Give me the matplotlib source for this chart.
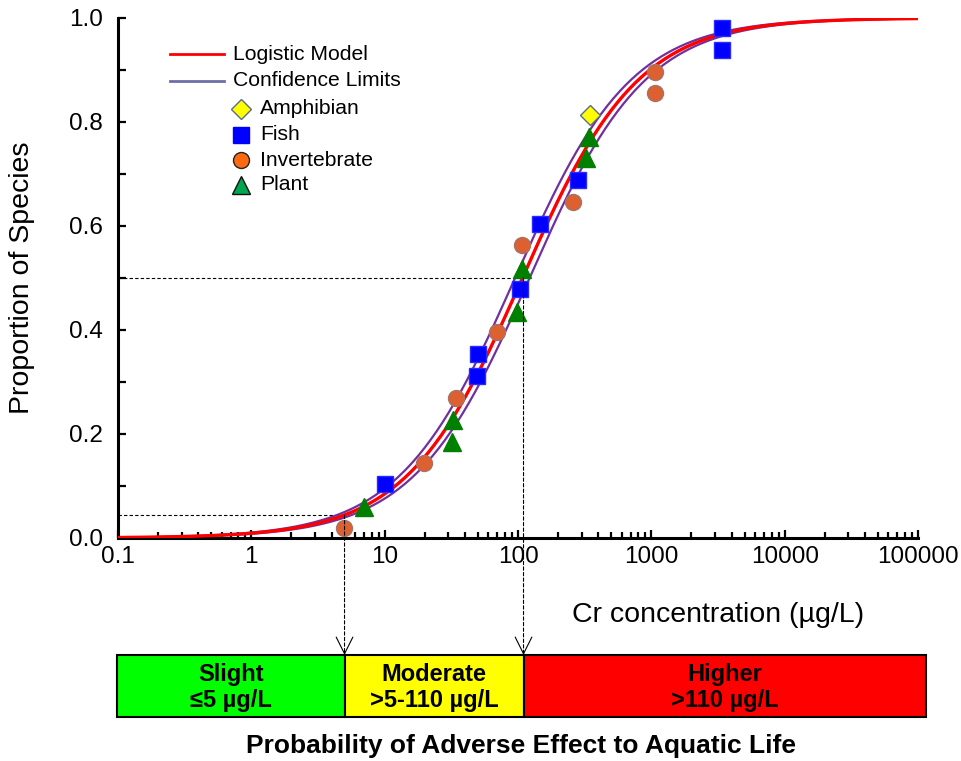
import numpy as np
import matplotlib
matplotlib.use("Agg")
import matplotlib.pyplot as plt
from matplotlib.patches import ConnectionPatch
from matplotlib.ticker import MultipleLocator, LogLocator, NullFormatter, FixedLocator, FormatStrFormatter

plt.rcParams['font.family'] = ['Liberation Sans', 'DejaVu Sans']

# logistic model: EC50 (ug/L) and slope, plus confidence limits
ec50_model = 108.0
ec50_upper = 95.0
ec50_lower = 122.0
slope = 1.0

# species sensitivity points (concentration ug/L, proportion)
amphibian_x = [347]
amphibian_y = [0.813]
fish_x = [10, 50, 49, 103, 146, 283, 3375, 3375]
fish_y = [0.104, 0.354, 0.312, 0.478, 0.604, 0.688, 0.980, 0.938]
invert_x = [4.96, 19.7, 34.3, 69.2, 107, 260, 1067, 1067]
invert_y = [0.020, 0.145, 0.270, 0.396, 0.563, 0.646, 0.897, 0.855]
plant_x = [7.0, 32.4, 32.0, 108, 97.7, 343, 324]
plant_y = [0.059, 0.227, 0.185, 0.517, 0.435, 0.772, 0.730]

# guide lines: (concentration, proportion)
guides = [(5, 0.044), (110, 0.5)]

# risk bands
band_edges = [0.098, 5, 110, 115000]
band_colors = ['#00ff00', '#ffff00', '#ff0000']
band_titles = ['Slight', 'Moderate', 'Higher']
band_ranges = ['\u22645 \u00b5g/L', '>5-110 \u00b5g/L', '>110 \u00b5g/L']


def logistic(x, ec50, b):
    return 1.0 / (1.0 + (x / ec50) ** (-b))


W, H = 962, 761
fig = plt.figure(figsize=(W / 100, H / 100), dpi=100)
ax = fig.add_axes([118 / W, 1 - 538 / H, 800 / W, 520 / H])

xs = np.logspace(-1, 5, 400)
ax.plot(xs, logistic(xs, ec50_upper, slope), color='#7030a0', lw=1.6, zorder=2)
ax.plot(xs, logistic(xs, ec50_lower, slope), color='#7030a0', lw=1.6, zorder=2)
ax.plot(xs, logistic(xs, ec50_model, slope), color='#ff0000', lw=2.4, zorder=3)

ax.plot(fish_x, fish_y, 's', ms=11, color='#0000ff', mec='#2a2aff', zorder=5)
ax.plot(invert_x, invert_y, 'o', ms=11.5, color='#dc6030', mec='#a87266', mew=1, zorder=5)
ax.plot(plant_x, plant_y, '^', ms=12.5, color='#008000', mec='#008000', zorder=5)
ax.plot(amphibian_x, amphibian_y, 'D', ms=10, color='#ffff00', mec='#5b6c8c', mew=1, zorder=5)

# dashed guides inside the plot
for gx, gy in guides:
    ax.plot([0.1, gx], [gy, gy], color='black', lw=0.8, ls=(0, (3, 2)), zorder=1)

ax.set_xscale('log')
ax.set_xlim(0.1, 100000)
ax.set_ylim(0, 1.0)
ax.xaxis.set_major_locator(FixedLocator([0.1, 1, 10, 100, 1000, 10000, 100000]))
ax.set_xticklabels(['0.1', '1', '10', '100', '1000', '10000', '100000'])
ax.xaxis.set_minor_locator(LogLocator(base=10, subs=np.arange(2, 10)))
ax.xaxis.set_minor_formatter(NullFormatter())
ax.yaxis.set_major_locator(MultipleLocator(0.2))
ax.yaxis.set_minor_locator(MultipleLocator(0.1))
ax.yaxis.set_major_formatter(FormatStrFormatter('%.1f'))

for s in ['top', 'right']:
    ax.spines[s].set_visible(False)
for s in ['left', 'bottom']:
    ax.spines[s].set_linewidth(2.2)
ax.tick_params(axis='both', which='both', direction='in', width=1.6)
ax.tick_params(axis='x', which='major', length=6, pad=6, labelsize=17.5)
ax.tick_params(axis='x', which='minor', length=4.5)
ax.tick_params(axis='y', which='both', length=5.5)
ax.tick_params(axis='y', which='major', pad=11, labelsize=17.5)

fig.text(22 / W, 1 - 278 / H, 'Proportion of Species', rotation=90,
         ha='center', va='center', fontsize=20.5)
fig.text(718 / W, 1 - 615 / H, 'Cr concentration (\u00b5g/L)',
         ha='center', va='center', fontsize=20.5)

# legend, drawn by hand
def fx(px):
    return (px - 118) / 800


def fy(py):
    return (538 - py) / 520


tr = ax.transAxes
ax.plot([fx(170), fx(224)], [fy(54), fy(54)], color='#ff0000', lw=2, transform=tr)
ax.plot([fx(170), fx(224)], [fy(81), fy(81)], color='#6e6ea6', lw=2, transform=tr)
ax.text(fx(233), fy(54), 'Logistic Model', transform=tr, va='center', fontsize=15.2)
ax.text(fx(233), fy(81), 'Confidence Limits', transform=tr, va='center', fontsize=15.2)
leg_items = [
    ('Amphibian', 'D', 10, '#ffff00', '#5b6c8c', 109),
    ('Fish', 's', 11, '#0000ff', '#0000ff', 135),
    ('Invertebrate', 'o', 11.5, '#ff6a10', '#222222', 160),
    ('Plant', '^', 12.5, '#00a550', '#111111', 185),
]
for name, mk, ms, fc, ec, py in leg_items:
    ax.plot([fx(241)], [fy(py)], mk, ms=ms, color=fc, mec=ec, mew=1, transform=tr, clip_on=False)
    ax.text(fx(260), fy(py), name, transform=tr, va='center', fontsize=15.2)

# risk band axis sharing the concentration scale
bax = fig.add_axes([118 / W, 1 - 716.7 / H, 800 / W, 61.7 / H])
bax.set_xscale('log')
bax.set_xlim(0.1, 100000)
bax.set_ylim(0, 1)
bax.axis('off')
for i in range(3):
    lo, hi = band_edges[i], band_edges[i + 1]
    bax.bar(lo, 1, width=hi - lo, bottom=0, align='edge', color=band_colors[i],
            edgecolor='black', lw=1.5, clip_on=False)
    mid = np.sqrt(lo * hi)
    bax.text(mid, 0.68, band_titles[i], ha='center', va='center',
             fontsize=17, fontweight='bold')
    bax.text(mid, 0.27, band_ranges[i], ha='center', va='center',
             fontsize=17, fontweight='bold')

fig.text(521 / W, 1 - 746 / H, 'Probability of Adverse Effect to Aquatic Life',
         ha='center', va='center', fontsize=19, fontweight='bold')

# dashed drop lines from the curve down to the bands, with open arrowheads
for gx, gy in guides:
    con = ConnectionPatch(xyA=(gx, gy), coordsA=ax.transData,
                          xyB=(gx, 1.0), coordsB=bax.transData,
                          color='black', lw=0.8, ls=(0, (3, 2)), zorder=6)
    fig.add_artist(con)
    head = ConnectionPatch(xyA=(gx, 1.05), coordsA=bax.transData,
                           xyB=(gx, 1.0), coordsB=bax.transData,
                           arrowstyle='->', mutation_scale=30, color='black', lw=0.8,
                           shrinkA=0, shrinkB=0, zorder=6)
    fig.add_artist(head)

fig.savefig('out.png', dpi=100)
